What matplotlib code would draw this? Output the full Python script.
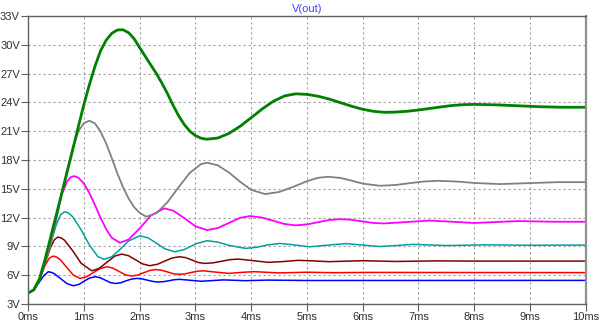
import matplotlib.pyplot as plt

# time in ms, voltage in V
t_green = [0, .1, .2, .3, .4, .5, .6, .7, .8, .9, 1.0, 1.1, 1.2, 1.3, 1.4, 1.5, 1.6, 1.7, 1.8, 1.9,
           2.0, 2.1, 2.2, 2.3, 2.4, 2.5, 2.6, 2.7, 2.8, 2.9, 3.0, 3.1, 3.2, 3.4, 3.6, 3.8, 4.0, 4.2,
           4.4, 4.6, 4.8, 5.0, 5.2, 5.4, 5.6, 5.8, 6.0, 6.2, 6.4, 6.6, 6.8, 7.0, 7.2, 7.4, 7.6, 7.8,
           8.0, 8.4, 8.8, 9.2, 9.6, 10.0]
v_green = [4.15, 4.5, 5.6, 7.6, 9.9, 12.2, 14.5, 16.8, 19.1, 21.5, 23.8, 25.9, 27.8, 29.4, 30.5,
           31.2, 31.55, 31.57, 31.27, 30.64, 29.7, 28.8, 27.9, 27.0, 26.0, 24.9, 23.7, 22.6, 21.7,
           21.0, 20.55, 20.28, 20.17, 20.29, 20.77, 21.51, 22.41, 23.33, 24.13, 24.68, 24.9, 24.84,
           24.65, 24.35, 23.98, 23.61, 23.29, 23.07, 22.97, 23.0, 23.08, 23.21, 23.37, 23.53, 23.68,
           23.77, 23.8, 23.75, 23.65, 23.55, 23.5, 23.5]

t_gray = [0, .1, .2, .3, .4, .5, .6, .7, .8, .9, 1.0, 1.1, 1.2, 1.3, 1.4, 1.5, 1.6, 1.7, 1.8, 1.9,
          2.0, 2.12, 2.3, 2.5, 2.7, 2.9, 3.1, 3.21, 3.4, 3.6, 3.8, 4.0, 4.25, 4.5, 4.75, 5.0, 5.2,
          5.38, 5.6, 5.8, 6.0, 6.31, 6.6, 6.85, 7.1, 7.35, 7.7, 8.0, 8.46, 9.0, 9.5, 10.0]
v_gray = [4.15, 4.45, 5.5, 7.3, 9.3, 11.8, 14.5, 17.0, 19.3, 21.0, 21.85, 22.1, 21.8, 20.95, 19.7,
          18.2, 16.6, 15.2, 14.0, 13.1, 12.5, 12.1, 12.47, 13.62, 15.19, 16.67, 17.58, 17.72, 17.46,
          16.71, 15.75, 14.9, 14.46, 14.67, 15.2, 15.8, 16.15, 16.26, 16.14, 15.86, 15.55, 15.32,
          15.41, 15.6, 15.77, 15.84, 15.76, 15.62, 15.5, 15.6, 15.7, 15.7]

t_mag = [0, .1, .2, .3, .4, .5, .6, .7, .76, .82, .9, 1.0, 1.1, 1.2, 1.3, 1.4, 1.5, 1.645, 1.8,
         2.0, 2.2, 2.44, 2.6, 2.8, 3.0, 3.21, 3.4, 3.6, 3.8, 3.98, 4.2, 4.4, 4.6, 4.8, 5.0, 5.2,
         5.4, 5.59, 5.8, 6.0, 6.2, 6.38, 6.8, 7.2, 7.6, 8.0, 8.4, 8.8, 9.4, 10.0]
v_mag = [4.15, 4.45, 5.5, 7.3, 9.3, 11.8, 14.4, 15.8, 16.2, 16.33, 16.17, 15.55, 14.54, 13.29,
         11.98, 10.79, 9.9, 9.39, 9.72, 10.88, 12.22, 12.97, 12.74, 11.96, 11.1, 10.71, 10.92,
         11.45, 11.98, 12.17, 12.01, 11.67, 11.34, 11.2, 11.3, 11.53, 11.76, 11.85, 11.78, 11.61,
         11.45, 11.4, 11.55, 11.7, 11.58, 11.45, 11.55, 11.65, 11.58, 11.57]

t_cyan = [0, .1, .2, .3, .4, .5, .58, .65, .72, .8, .95, 1.1, 1.25, 1.36, 1.5, 1.65, 1.8, 2.0,
          2.15, 2.3, 2.45, 2.63, 2.8, 3.0, 3.21, 3.4, 3.6, 3.9, 4.1, 4.3, 4.52, 4.8, 5.05, 5.35,
          5.7, 6.0, 6.3, 6.6, 6.9, 7.2, 7.5, 8.2, 9.0, 10.0]
v_cyan = [4.15, 4.45, 5.5, 7.3, 9.2, 11.2, 12.3, 12.62, 12.5, 12.09, 10.74, 9.13, 7.95, 7.66,
          7.94, 8.71, 9.57, 10.12, 9.9, 9.35, 8.76, 8.45, 8.68, 9.27, 9.6, 9.46, 9.12, 8.8, 8.92,
          9.17, 9.32, 9.15, 8.97, 9.13, 9.3, 9.15, 9.0, 9.1, 9.22, 9.16, 9.1, 9.17, 9.13, 9.15]

t_dred = [0, .1, .2, .3, .4, .47, .53, .59, .65, .8, .95, 1.14, 1.27, 1.4, 1.55, 1.675, 1.8, 1.93,
          2.05, 2.18, 2.32, 2.45, 2.58, 2.71, 2.82, 2.94, 3.06, 3.17, 3.32, 3.47, 3.62, 3.77, 4.0,
          4.3, 4.55, 4.85, 5.1, 5.4, 6.0, 6.6, 7.3, 8.0, 10.0]
v_dred = [4.15, 4.45, 5.5, 7.2, 8.9, 9.7, 9.98, 9.9, 9.66, 8.54, 7.25, 6.47, 6.71, 7.3, 7.99,
          8.21, 8.04, 7.6, 7.19, 7.0, 7.15, 7.48, 7.8, 7.93, 7.85, 7.585, 7.32, 7.24, 7.3, 7.465,
          7.63, 7.69, 7.55, 7.35, 7.42, 7.56, 7.5, 7.42, 7.52, 7.44, 7.5, 7.48, 7.48]

t_red = [0, .1, .2, .3, .38, .45, .51, .57, .69, .81, .93, 1.05, 1.17, 1.29, 1.41, 1.52, 1.63,
         1.74, 1.855, 1.96, 2.07, 2.18, 2.29, 2.39, 2.5, 2.6, 2.7, 2.81, 2.92, 3.03, 3.14, 3.37,
         3.6, 3.82, 4.05, 4.5, 5.0, 5.5, 6.0, 10.0]
v_red = [4.15, 4.45, 5.5, 7.0, 7.8, 8.0, 7.9, 7.66, 6.84, 6.02, 5.68, 5.86, 6.285, 6.71, 6.89,
         6.75, 6.405, 6.06, 5.92, 6.02, 6.26, 6.5, 6.6, 6.53, 6.35, 6.17, 6.1, 6.15, 6.285, 6.42,
         6.47, 6.33, 6.2, 6.3, 6.38, 6.25, 6.32, 6.27, 6.3, 6.28]

t_blue = [0, .1, .2, .28, .36, .42, .47, .585, .7, .81, .91, 1.0, 1.1, 1.2, 1.29, 1.38, 1.47,
          1.56, 1.66, 1.75, 1.85, 1.95, 2.05, 2.14, 2.24, 2.33, 2.43, 2.53, 2.62, 2.72, 2.91, 3.1,
          3.3, 3.5, 3.9, 4.3, 5.0, 10.0]
v_blue = [4.15, 4.45, 5.3, 5.95, 6.37, 6.3, 6.16, 5.64, 5.12, 4.91, 5.05, 5.38, 5.71, 5.85, 5.75,
          5.5, 5.25, 5.15, 5.22, 5.415, 5.6, 5.68, 5.62, 5.49, 5.36, 5.3, 5.34, 5.44, 5.54, 5.58,
          5.48, 5.38, 5.45, 5.52, 5.44, 5.5, 5.46, 5.47]

x_ticks = list(range(0, 11))
x_labels = ['%dms' % i for i in x_ticks]
y_ticks = list(range(3, 34, 3))
y_labels = ['%dV' % v for v in y_ticks]

plt.rcParams['font.family'] = ['Liberation Sans', 'DejaVu Sans']
fig = plt.figure(figsize=(6, 3.27), dpi=100)
ax = fig.add_axes([0.047, 0.07, 0.929, 0.881])

ax.plot(t_blue, v_blue, color='#0000ff', lw=1.1)
ax.plot(t_red, v_red, color='#ff0000', lw=1.1)
ax.plot(t_dred, v_dred, color='#800000', lw=1.1)
ax.plot(t_cyan, v_cyan, color='#00a0a0', lw=1.1)
ax.plot(t_mag, v_mag, color='#ff00ff', lw=1.3)
ax.plot(t_gray, v_gray, color='#808080', lw=1.3)
ax.plot(t_green, v_green, color='#008000', lw=2.0)

ax.set_xlim(0, 10)
ax.set_ylim(3, 33)
ax.set_xticks(x_ticks)
ax.set_xticklabels(x_labels)
ax.set_yticks(y_ticks)
ax.set_yticklabels(y_labels)
ax.tick_params(direction='out', length=5, width=0.8, color='#606060',
               labelsize=8, labelcolor='#303030', pad=1)
ax.grid(True, color='#a0a0a0', linestyle=(0, (2, 2.5)), lw=0.8)
for s in ax.spines.values():
    s.set_color('#606060')
    s.set_linewidth(1)
ax.spines['right'].set_color('#909090')
ax.spines['right'].set_linewidth(1.6)

ax.set_title('V(out)', color='#4040ff', fontsize=8, pad=3)

plt.savefig('out.png')
